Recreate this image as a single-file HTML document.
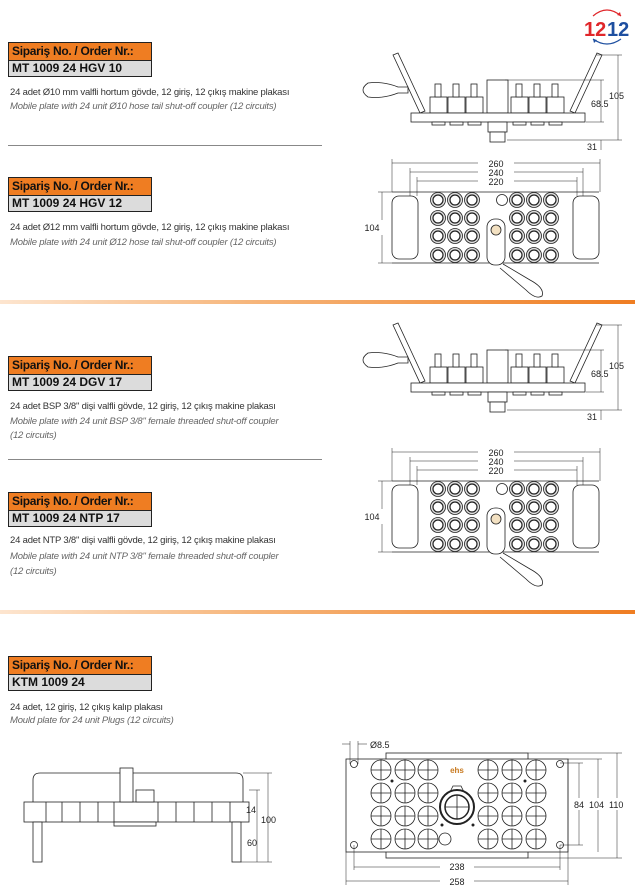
<!DOCTYPE html>
<html><head><meta charset="utf-8"><style>
body{margin:0;width:635px;height:892px;background:#fff;position:relative;overflow:hidden;font-family:"Liberation Sans",sans-serif;}
.hd{position:absolute;left:8px;width:142px;border:1px solid #222;}
.hd .o{background:#ef7d22;height:17px;font-weight:bold;font-size:12px;line-height:17px;padding-left:3px;color:#111;border-bottom:1px solid #222;letter-spacing:-0.3px}
.hd .g{background:#dcdcdc;height:15px;font-weight:bold;font-size:12px;line-height:15px;padding-left:3px;color:#111}
.t{position:absolute;left:10px;font-size:9.5px;color:#333;white-space:nowrap;letter-spacing:-0.2px}
.i{font-style:italic;color:#666}
.ol{position:absolute;left:0;width:635px;height:4px;background:linear-gradient(90deg,#fde5cf,#f6b57a 40%,#ef7d22)}
.gl{position:absolute;left:8px;width:314px;height:1px;background:#888}
svg{position:absolute;left:0;top:0}
</style></head><body>
<div class="hd" style="top:42px"><div class="o">Sipariş No. / Order Nr.:</div><div class="g">MT 1009 24 HGV 10</div></div>
<div class="t" style="top:87px">24 adet Ø10 mm valfli hortum gövde, 12 giriş, 12 çıkış makine plakası</div>
<div class="t i" style="top:101px">Mobile plate with 24 unit Ø10 hose tail shut-off coupler (12 circuits)</div>
<div class="gl" style="top:145px"></div>
<div class="hd" style="top:177px"><div class="o">Sipariş No. / Order Nr.:</div><div class="g">MT 1009 24 HGV 12</div></div>
<div class="t" style="top:222px">24 adet Ø12 mm valfli hortum gövde, 12 giriş, 12 çıkış makine plakası</div>
<div class="t i" style="top:237px">Mobile plate with 24 unit Ø12 hose tail shut-off coupler (12 circuits)</div>
<div class="ol" style="top:300px"></div>
<div class="hd" style="top:356px"><div class="o">Sipariş No. / Order Nr.:</div><div class="g">MT 1009 24 DGV 17</div></div>
<div class="t" style="top:401px">24 adet BSP 3/8" dişi valfli gövde, 12 giriş, 12 çıkış makine plakası</div>
<div class="t i" style="top:416px">Mobile plate with 24 unit BSP 3/8" female threaded shut-off coupler</div>
<div class="t i" style="top:430px">(12 circuits)</div>
<div class="gl" style="top:459px"></div>
<div class="hd" style="top:492px"><div class="o">Sipariş No. / Order Nr.:</div><div class="g">MT 1009 24 NTP 17</div></div>
<div class="t" style="top:535px">24 adet NTP 3/8" dişi valfli gövde, 12 giriş, 12 çıkış makine plakası</div>
<div class="t i" style="top:551px">Mobile plate with 24 unit NTP 3/8" female threaded shut-off coupler</div>
<div class="t i" style="top:566px">(12 circuits)</div>
<div class="ol" style="top:610px"></div>
<div class="hd" style="top:656px"><div class="o">Sipariş No. / Order Nr.:</div><div class="g">KTM 1009 24</div></div>
<div class="t" style="top:702px">24 adet, 12 giriş, 12 çıkış kalıp plakası</div>
<div class="t i" style="top:715px">Mould plate for 24 unit Plugs (12 circuits)</div>

<svg width="635" height="892" viewBox="0 0 635 892" font-family="Liberation Sans, sans-serif">
<defs>
<g id="side" fill="#fff" stroke="#222" stroke-width="0.8">
 <path d="M393,55 l5,-2 l27,58 l-5,2 z"/>
 <path d="M602,55 l-5,-2 l-27,58 l5,2 z"/>
 <path d="M368,83 q-10,7 0,14 q15,2 30,-4 l10,0 l0,-6 l-10,0 q-15,-6 -30,-4z"/>
 <rect x="430" y="97" width="17" height="16"/><rect x="448" y="97" width="17" height="16"/><rect x="466" y="97" width="17" height="16"/>
 <rect x="511" y="97" width="17" height="16"/><rect x="529" y="97" width="17" height="16"/><rect x="547" y="97" width="17" height="16"/>
 <rect x="435" y="84" width="6" height="13"/><rect x="453" y="84" width="6" height="13"/><rect x="471" y="84" width="6" height="13"/>
 <rect x="516" y="84" width="6" height="13"/><rect x="534" y="84" width="6" height="13"/><rect x="552" y="84" width="6" height="13"/>
 <rect x="487" y="80" width="21" height="33"/>
 <rect x="411" y="113" width="174" height="9"/>
 <rect x="432" y="122" width="13" height="3"/><rect x="450" y="122" width="13" height="3"/><rect x="468" y="122" width="13" height="3"/>
 <rect x="513" y="122" width="13" height="3"/><rect x="531" y="122" width="13" height="3"/><rect x="549" y="122" width="13" height="3"/>
 <rect x="488" y="122" width="19" height="10"/><rect x="490" y="132" width="15" height="10"/>
 <g fill="none" stroke-width="0.5"><path d="M505,80 H604 M586,122 H604 M507,140 H622 M596,55 H622"/>
 <path d="M601,80 V122 M618,55 V140 M601,140 V150"/></g>
 <text x="591" y="107" font-size="9" fill="#222" stroke="none">68.5</text>
 <text x="609" y="99" font-size="9" fill="#222" stroke="none">105</text>
 <text x="587" y="150" font-size="9" fill="#222" stroke="none">31</text>
</g>
<g id="cc"><circle r="7.5" fill="#ddd" stroke="#222" stroke-width="0.8"/><circle r="5" fill="#fff" stroke="#222" stroke-width="1.2"/></g>
<g id="mc" fill="#fff" stroke="#222" stroke-width="0.8"><circle r="10"/><path d="M-10,0H10M0,-10V10" fill="none"/></g>
<g id="top" fill="none" stroke="#222" stroke-width="0.8">
 <path d="M392,192 H599 M392,263 H599" />
 <rect x="392" y="196" width="26" height="63" rx="7" fill="#fff"/>
 <rect x="573" y="196" width="26" height="63" rx="7" fill="#fff"/>
 <g stroke-width="0.5"><path d="M392,163 H478 M514,163 H600 M410,172 H478 M514,172 H583 M417,181 H478 M514,181 H577 M392,159 V192 M600,159 V192 M410,168 V196 M583,168 V196 M417,177 V196 M577,177 V196 M378,192 H392 M378,263 H392 M382,192 V220 M382,235 V263"/></g>
 <text x="496" y="167" font-size="9" fill="#222" stroke="none" text-anchor="middle">260</text>
 <text x="496" y="176" font-size="9" fill="#222" stroke="none" text-anchor="middle">240</text>
 <text x="496" y="185" font-size="9" fill="#222" stroke="none" text-anchor="middle">220</text>
 <text x="372" y="231" font-size="9" fill="#222" stroke="none" text-anchor="middle">104</text>
 <circle cx="502" cy="200" r="5.5"/>
 <rect x="487" y="219" width="18" height="46" rx="8" fill="#fff"/>
 <circle cx="496" cy="230" r="5" fill="#f3e1c2"/>
 <path d="M503,264 L530,280 q15,8 12,16 q-6,4 -16,-6 L500,268" fill="#fff"/>
</g>
</defs>
<use href="#side"/>
<use href="#side" y="270"/>
<use href="#top"/>
<use href="#top" y="289"/>
<g id="circ">
<use href="#cc" x="438" y="200"/><use href="#cc" x="455" y="200"/><use href="#cc" x="472" y="200"/><use href="#cc" x="517" y="200"/><use href="#cc" x="534" y="200"/><use href="#cc" x="551" y="200"/>
<use href="#cc" x="438" y="218"/><use href="#cc" x="455" y="218"/><use href="#cc" x="472" y="218"/><use href="#cc" x="517" y="218"/><use href="#cc" x="534" y="218"/><use href="#cc" x="551" y="218"/>
<use href="#cc" x="438" y="236"/><use href="#cc" x="455" y="236"/><use href="#cc" x="472" y="236"/><use href="#cc" x="517" y="236"/><use href="#cc" x="534" y="236"/><use href="#cc" x="551" y="236"/>
<use href="#cc" x="438" y="255"/><use href="#cc" x="455" y="255"/><use href="#cc" x="472" y="255"/><use href="#cc" x="517" y="255"/><use href="#cc" x="534" y="255"/><use href="#cc" x="551" y="255"/>
</g>
<use href="#circ" y="289"/>

<text x="584" y="36" font-size="20" font-weight="bold" fill="#e0262a">12</text>
<text x="607" y="36" font-size="20" font-weight="bold" fill="#1e4fa0">12</text>
<path d="M593,16 q14,-12 28,0" fill="none" stroke="#e0262a" stroke-width="1.2"/><path d="M621,16 l-4,-1 l3,-3z" fill="#e0262a"/>
<path d="M621,39 q-14,10 -28,0" fill="none" stroke="#1e4fa0" stroke-width="1.2"/><path d="M593,39 l4,1 l-3,3z" fill="#1e4fa0"/>

<g fill="#fff" stroke="#222" stroke-width="0.8">
 <path d="M33,802 V780 q0,-7 7,-7 H236 q7,0 7,7 V802"/>
 <rect x="24" y="802" width="225" height="20"/>
 <path d="M46,802V822 M62,802V822 M80,802V822 M98,802V822 M114,802V822 M158,802V822 M176,802V822 M194,802V822 M212,802V822 M230,802V822" fill="none"/>
 <rect x="120" y="768" width="13" height="34"/>
 <rect x="136" y="790" width="18" height="12"/>
 <rect x="114" y="822" width="42" height="4"/>
 <rect x="33" y="822" width="9" height="40"/><rect x="232" y="822" width="9" height="40"/>
 <g fill="none" stroke-width="0.5"><path d="M243,773 H272 M249,790 H260 M241,862 H272 M268,773 V862 M257,790 V862"/></g>
</g>
<text x="246" y="813" font-size="9" fill="#222">14</text>
<text x="261" y="823" font-size="9" fill="#222">100</text>
<text x="247" y="846" font-size="9" fill="#222">60</text>

<g fill="#fff" stroke="#222" stroke-width="0.8">
 <rect x="386" y="753" width="142" height="105"/>
 <rect x="346" y="759" width="222" height="93"/>
</g>
<g>
<use href="#mc" x="381" y="770"/><use href="#mc" x="405" y="770"/><use href="#mc" x="428" y="770"/><use href="#mc" x="488" y="770"/><use href="#mc" x="512" y="770"/><use href="#mc" x="536" y="770"/>
<use href="#mc" x="381" y="793"/><use href="#mc" x="405" y="793"/><use href="#mc" x="428" y="793"/><use href="#mc" x="488" y="793"/><use href="#mc" x="512" y="793"/><use href="#mc" x="536" y="793"/>
<use href="#mc" x="381" y="816"/><use href="#mc" x="405" y="816"/><use href="#mc" x="428" y="816"/><use href="#mc" x="488" y="816"/><use href="#mc" x="512" y="816"/><use href="#mc" x="536" y="816"/>
<use href="#mc" x="381" y="839"/><use href="#mc" x="405" y="839"/><use href="#mc" x="428" y="839"/><use href="#mc" x="488" y="839"/><use href="#mc" x="512" y="839"/><use href="#mc" x="536" y="839"/>
</g>
<g fill="none" stroke="#222" stroke-width="0.8">
 <circle cx="457" cy="807" r="17" stroke-width="2"/><circle cx="457" cy="807" r="12" stroke-width="1.5"/><path d="M445,807H469M457,795V819"/>
 <path d="M450,792 l3,-6 h8 l3,6"/>
 <circle cx="445" cy="839" r="6"/>
 <circle cx="354" cy="764" r="3.5"/><circle cx="560" cy="764" r="3.5"/><circle cx="354" cy="845" r="3.5"/><circle cx="560" cy="845" r="3.5"/>
 <g stroke-width="0.5"><path d="M354,845V870 M560,845V870 M346,852V885 M568,759V885 M354,867H440 M474,867H560 M346,881H440 M474,881H568 M350,741V764 M358,741V764 M342,744H350 M358,744H367 M528,753H622 M568,759H602 M560,763H583 M560,845H583 M528,858H622 M579,763V845 M598,759V852 M617,753V858"/></g>
</g>
<g fill="#222"><circle cx="392" cy="781" r="1.5"/><circle cx="525" cy="781" r="1.5"/><circle cx="442" cy="825" r="1.5"/><circle cx="473" cy="825" r="1.5"/></g>
<text x="457" y="773" font-size="8" font-weight="bold" fill="#c8791e" text-anchor="middle">ehs</text>
<text x="370" y="748" font-size="9" fill="#222">Ø8.5</text>
<text x="457" y="870" font-size="9" fill="#222" text-anchor="middle">238</text>
<text x="457" y="885" font-size="9" fill="#222" text-anchor="middle">258</text>
<g font-size="9" fill="#222"><rect x="572" y="798" width="58" height="12" fill="#fff"/><text x="574" y="808">84</text><text x="589" y="808">104</text><text x="609" y="808">110</text></g>
</svg>
</body></html>
